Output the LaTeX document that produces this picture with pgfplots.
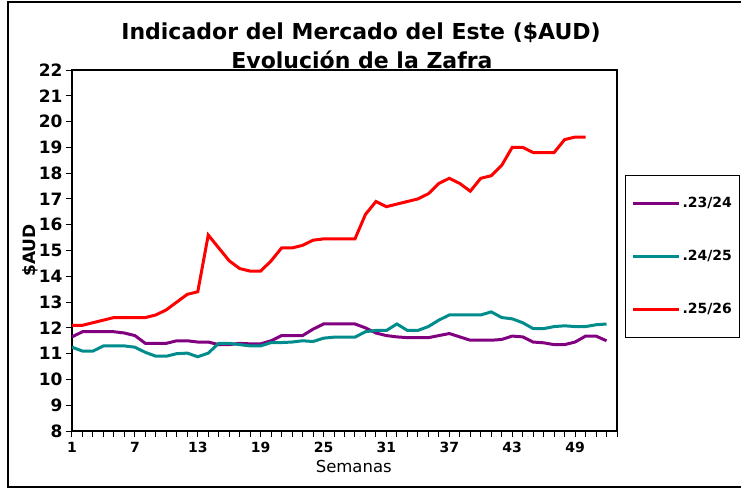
\documentclass[border=0pt]{standalone}
\usepackage{fontspec}
\setmainfont{DejaVu Sans}
\usepackage{pgfplots}
\pgfplotsset{compat=1.18}
\usepackage{pgfplotstable}
\definecolor{cpurple}{RGB}{128,0,128}
\definecolor{cteal}{RGB}{0,140,140}
\definecolor{cred}{RGB}{255,0,0}

\pgfplotstableread{
w v
1 11.65
2 11.85
3 11.85
4 11.85
5 11.85
6 11.8
7 11.7
8 11.4
9 11.4
10 11.4
11 11.5
12 11.5
13 11.45
14 11.45
15 11.35
16 11.35
17 11.4
18 11.38
19 11.38
20 11.5
21 11.7
22 11.7
23 11.7
24 11.95
25 12.15
26 12.15
27 12.15
28 12.15
29 12.0
30 11.8
31 11.7
32 11.65
33 11.62
34 11.62
35 11.62
36 11.7
37 11.78
38 11.65
39 11.52
40 11.52
41 11.52
42 11.55
43 11.68
44 11.65
45 11.45
46 11.42
47 11.35
48 11.35
49 11.45
50 11.68
51 11.68
52 11.5
}\purpledata

\pgfplotstableread{
w v
1 11.25
2 11.1
3 11.1
4 11.3
5 11.3
6 11.3
7 11.25
8 11.05
9 10.9
10 10.9
11 11.0
12 11.02
13 10.88
14 11.02
15 11.4
16 11.4
17 11.35
18 11.3
19 11.3
20 11.43
21 11.43
22 11.45
23 11.5
24 11.47
25 11.6
26 11.64
27 11.64
28 11.64
29 11.85
30 11.9
31 11.9
32 12.15
33 11.9
34 11.9
35 12.05
36 12.3
37 12.5
38 12.5
39 12.5
40 12.5
41 12.62
42 12.4
43 12.35
44 12.2
45 11.97
46 11.97
47 12.05
48 12.08
49 12.05
50 12.05
51 12.12
52 12.15
}\tealdata

\pgfplotstableread{
w v
1 12.1
2 12.1
3 12.2
4 12.3
5 12.4
6 12.4
7 12.4
8 12.4
9 12.5
10 12.7
11 13.0
12 13.3
13 13.4
14 15.6
15 15.1
16 14.6
17 14.3
18 14.2
19 14.2
20 14.6
21 15.1
22 15.1
23 15.2
24 15.4
25 15.45
26 15.45
27 15.45
28 15.45
29 16.4
30 16.9
31 16.7
32 16.8
33 16.9
34 17.0
35 17.2
36 17.6
37 17.8
38 17.6
39 17.3
40 17.8
41 17.9
42 18.3
43 19.0
44 19.0
45 18.8
46 18.8
47 18.8
48 19.3
49 19.4
50 19.4
}\reddata

\begin{document}
\begin{tikzpicture}[x=1pt,y=1pt]
% axis lower-left corner is at (0,0); reference pixel (72,431)
\useasboundingbox (-72,-57) rectangle (669,431);
\draw[line width=1.2pt] (669,429) -- (-64,429) -- (-64,-56) -- (669,-56);
\node[font=\bfseries\fontsize{22}{24}\selectfont] at (289,398) {Indicador del Mercado del Este (\$AUD)};
\node[font=\bfseries\fontsize{22}{24}\selectfont] at (290,371) {Evolución de la Zafra};
\begin{axis}[
  at={(0,0)}, anchor=south west,
  width=545pt, height=361pt, scale only axis,
  xmin=1, xmax=53, ymin=8, ymax=22,
  xtick={1,7,...,49}, minor xtick={1,...,53}, ytick={8,...,22},
  tick align=outside, tick pos=left,
  major tick length=6pt, minor tick length=6pt,
  axis line style={line width=1.3pt},
  every tick/.style={black, line width=1pt},
  minor tick style={black, line width=1pt},
  ticklabel style={/pgf/number format/assume math mode=true},
  yticklabel style={font=\bfseries\fontsize{17}{17}\selectfont},
  xticklabel style={font=\bfseries\fontsize{14}{14}\selectfont, yshift=-2pt},
  xlabel={Semanas},
  xlabel style={font=\fontsize{16.5}{16.5}\selectfont, at={(axis description cs:0.517,-0.097)}, anchor=center},
  ylabel={\$AUD},
  ylabel style={font=\bfseries\fontsize{17}{17}\selectfont, at={(axis description cs:-0.077,0.5)}, anchor=center},
  legend style={at={(1.0147,0.709)}, anchor=north west, draw=black, line width=1pt,
    inner xsep=6pt, inner ysep=20pt, row sep=37pt,
    font=\bfseries\fontsize{14}{14}\selectfont},
  legend cell align=left,
  legend image code/.code={\draw[#1, line width=3pt] (0pt,0pt) -- (46pt,0pt);},
]
\addplot[cpurple, line width=3pt] table[x=w, y=v] {\purpledata};
\addlegendentry{.23/24}
\addplot[cteal, line width=3pt] table[x=w, y=v] {\tealdata};
\addlegendentry{.24/25}
\addplot[cred, line width=3pt] table[x=w, y=v] {\reddata};
\addlegendentry{.25/26}
\end{axis}
\end{tikzpicture}
\end{document}
